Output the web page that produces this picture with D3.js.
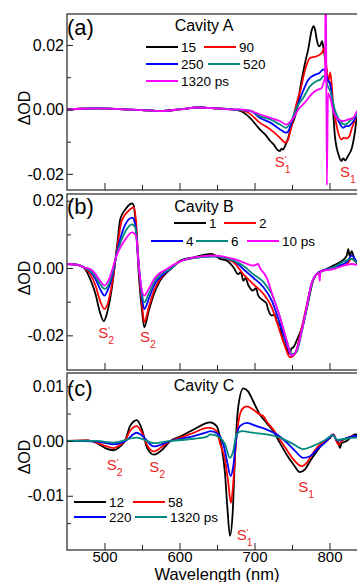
<!DOCTYPE html>
<html>
<head>
<meta charset="utf-8">
<script src="https://cdn.jsdelivr.net/npm/d3@7/dist/d3.min.js"></script>
<style>
  body { margin: 0; background: #fff; }
  text { font-family: "Liberation Sans", Arial, sans-serif; }
</style>
</head>
<body>
<svg id="chart"></svg>
<script>
// *********************************************
// DATA  ([wavelength nm, dOD])
// *********************************************
var aFlat = [[450,0],[470,0.0002],[490,0.0003],[520,0.0001],[550,-0.0002],[575,-0.0005],[600,0],[625,0.0006],[650,0.0003],[670,0]];
var aBlack = [[681,-0.0005],[694,-0.0026],[707,-0.0062],[715,-0.008],[721,-0.0098],[726,-0.011],[730,-0.0124],[734,-0.0129],[736,-0.0122],[738,-0.0125],[741,-0.0112],[745,-0.0088],[748,-0.006],[752,-0.0036],[757,0.0005],[761,0.0067],[764,0.0105],[767,0.014],[772,0.0191],[776,0.0243],[779,0.0258],[781,0.0245],[783,0.0217],[786,0.0196],[788,0.02],[790,0.0212],[792,0.019],[794,0.016],[798,0.009],[801,0.008],[805,-0.001],[807,-0.0078],[812,-0.014],[816,-0.016],[818,-0.0152],[821,-0.0158],[825,-0.0143],[830,-0.0118],[834,-0.0068],[837,-0.0016],[845,0.0003],[850,0]];
var aRed = [[690,-0.0008],[707,-0.0041],[721,-0.0062],[734,-0.0088],[738,-0.0098],[741,-0.0103],[745,-0.0093],[747,-0.0075],[750,-0.0046],[754,0],[758,0.0035],[761,0.0057],[767,0.0119],[774,0.016],[778,0.0162],[783,0.0165],[787,0.017],[790,0.0176],[793,0.0191],[795,0.015],[799,0.009],[801,0.0115],[805,0.0016],[810,-0.0057],[816,-0.0093],[819,-0.0088],[823,-0.009],[826,-0.0085],[830,-0.0057],[837,-0.0016],[845,0.0002],[850,0]];
var aBlue = [[695,-0.0005],[707,-0.0026],[721,-0.0041],[734,-0.0062],[742,-0.0072],[745,-0.0068],[750,-0.0036],[755.5,0],[763,0.0047],[772,0.0093],[781,0.0108],[786,0.0112],[792,0.0124],[794,0.012],[798,0.009],[801,0.0078],[805,0],[812,-0.0036],[818,-0.0057],[822,-0.0052],[825,-0.0052],[832,-0.0036],[837,-0.0016],[845,0],[850,0]];
var aTeal = [[695,-0.0004],[707,-0.0021],[721,-0.0031],[734,-0.0047],[742,-0.0057],[745,-0.0052],[750,-0.0031],[756,0.0005],[765,0.0036],[774,0.0072],[783,0.0088],[788,0.0093],[792,0.0103],[794,0.01],[798,0.007],[801,0.0057],[807,0],[814,-0.0036],[821,-0.0047],[827,-0.0036],[837,-0.0016],[845,0],[850,0]];
var aMagenta = [[681,0],[695,-0.0005],[707,-0.0015],[721,-0.0026],[734,-0.0036],[742,-0.0047],[746,-0.0042],[752,-0.0026],[758.5,0],[767,0.0021],[776,0.0047],[785,0.0062],[789,0.0065],[792,0.0083],[794,0.01],[795,0.045],[796.5,-0.0235],[798,0.005],[801,0.0036],[805,-0.0005],[812,-0.0031],[818,-0.0036],[825,-0.0031],[832,-0.0026],[837,-0.0005],[845,0],[850,0]];

var bBlack = [[450,0.0012],[463,0.001],[472,0.0002],[481,-0.0033],[488,-0.0077],[494,-0.0132],[499,-0.0158],[503,-0.0137],[510,-0.0057],[517,0.0071],[521,0.0145],[528,0.0175],[534,0.019],[537,0.0192],[539,0.0185],[542,0.0121],[546,-0.0028],[550,-0.0127],[553,-0.0176],[559,-0.0127],[566,-0.0077],[574,-0.0038],[588,-0.0003],[601,0.0022],[619,0.0032],[643,0.0042],[654,0.0027],[663,0.0022],[672,0.0002],[678,-0.0018],[682,-0.0012],[685,-0.0038],[688,-0.003],[692,-0.0052],[698,-0.0067],[702,-0.006],[705,-0.0082],[712,-0.0097],[716,-0.0105],[718,-0.0122],[723,-0.0141],[727,-0.0138],[730,-0.0161],[734,-0.017],[736,-0.0196],[742,-0.0235],[747,-0.0255],[749,-0.024],[752,-0.0235],[758,-0.0206],[765,-0.0166],[772,-0.0097],[778,-0.0038],[785,-0.0013],[796,-0.0003],[805,0.0007],[814,0.0017],[823,0.0037],[825,0.0056],[827,0.0035],[829.5,0.005],[834,0.0022],[840,0.001],[850,0.001]];
var bRed = [[450,0.0012],[463,0.001],[472,0.0002],[481,-0.0018],[488,-0.0052],[494,-0.0097],[500,-0.0122],[504,-0.0107],[510,-0.0047],[517,0.0061],[523,0.0141],[532,0.017],[539,0.018],[542,0.0141],[546,-0.0008],[550,-0.0107],[553,-0.0161],[559,-0.0117],[566,-0.0067],[574,-0.0033],[588,-0.0003],[601,0.002],[619,0.003],[645,0.0037],[672,0.0017],[685,-0.0018],[698,-0.0047],[712,-0.0077],[723,-0.0117],[732,-0.0176],[741,-0.0235],[747,-0.0265],[754,-0.0255],[761,-0.0196],[767,-0.0137],[774,-0.0067],[781,-0.0023],[787,-0.0013],[805,0.0002],[823,0.0012],[829.5,0.0027],[840,0.001],[850,0.0008]];
var bBlue = [[450,0.0012],[463,0.001],[472,0.0002],[481,-0.001],[488,-0.0033],[494,-0.0062],[500,-0.0082],[504,-0.0067],[510,-0.0028],[517,0.0051],[526,0.0121],[537,0.015],[541,0.013],[546,0.0002],[550,-0.0087],[553,-0.0122],[559,-0.0092],[566,-0.0052],[574,-0.0028],[588,-0.0003],[601,0.002],[619,0.003],[645,0.0035],[672,0.0022],[685,-0.0003],[698,-0.0028],[712,-0.0057],[723,-0.0097],[734,-0.0166],[743,-0.0226],[749.5,-0.026],[756,-0.0245],[763,-0.0186],[769.5,-0.0117],[776,-0.0047],[783,-0.0018],[805,0.0002],[823,0.0017],[829.5,0.0037],[840,0.001],[850,0.0008]];
var bTeal = [[450,0.0012],[463,0.001],[472,0.0002],[481,-0.0008],[488,-0.0026],[494,-0.0047],[500,-0.0062],[506,-0.0047],[517,0.0046],[528,0.011],[537,0.013],[541,0.012],[546,0],[550,-0.0077],[553,-0.0102],[559,-0.0077],[566,-0.0042],[574,-0.002],[588,-0.0003],[601,0.002],[619,0.003],[645,0.0035],[672,0.0022],[685,0.0007],[698,-0.0018],[712,-0.0042],[723,-0.0077],[734,-0.0146],[743,-0.0216],[749.5,-0.0255],[756,-0.025],[763,-0.019],[769.5,-0.0122],[776,-0.0052],[783,-0.0018],[805,0.0002],[829.5,0.0027],[840,0.001],[850,0.0008]];
var bMagenta = [[450,0.0012],[463,0.001],[472,0.0002],[481,-0.0003],[488,-0.0018],[494,-0.0038],[500,-0.0052],[506,-0.0033],[517,0.0042],[528,0.0086],[537,0.0106],[542,0.0096],[546,0],[550,-0.0067],[553,-0.0082],[559,-0.0062],[566,-0.0033],[583,-0.0003],[601,0.002],[619,0.0032],[645,0.0037],[672,0.0027],[685,0.0017],[698,0.0007],[705,0.0012],[707,0.0002],[716,-0.0028],[725,-0.0087],[734,-0.0146],[743,-0.0216],[749.5,-0.026],[756,-0.0245],[763,-0.0186],[769.5,-0.0117],[776,-0.0047],[783,-0.0018],[786,-0.0015],[787,-0.0038],[788,-0.001],[805,-0.0003],[829.5,0.0012],[840,0.0008],[850,0.0005]];

var cBlack = [[450,0],[477,0.0001],[490,-0.0004],[501,-0.0013],[512,-0.0017],[521,-0.001],[528,0.0002],[534,0.0027],[543,0.0038],[550,0.0021],[557,-0.0013],[566,-0.0025],[577,-0.0016],[588,0],[601,0.0008],[619,0.0021],[637,0.0033],[641,0.0034],[649.5,0.0027],[656,-0.001],[660.6,-0.0058],[663.7,-0.0119],[667.3,-0.0173],[670.9,-0.0131],[674,-0.0028],[678.4,0.0063],[685,0.0096],[691.7,0.009],[698.4,0.0072],[707.3,0.0048],[716,0.0033],[725,0.0018],[734,-0.0004],[743,-0.0025],[752,-0.0043],[760.6,-0.0057],[767.3,-0.0052],[774,-0.0037],[783,-0.0019],[791.8,-0.0004],[800.6,0.0005],[805,0.0012],[809.5,0],[812,-0.0004],[814,-0.0013],[816,-0.0004],[823,0],[834,0.0012],[850,0.0012]];
var cRed = [[450,0],[477,0.0001],[490,-0.0003],[501,-0.0009],[512,-0.0013],[521,-0.0007],[528,0.0002],[534,0.0018],[543,0.0027],[550,0.0015],[557,-0.0008],[566,-0.0019],[577,-0.001],[588,0],[601,0.0006],[619,0.0015],[637,0.0024],[641,0.0024],[649.5,0.0018],[654,-0.0004],[660.6,-0.0034],[665,-0.0076],[668.6,-0.0113],[671.7,-0.0076],[675,-0.0007],[678.4,0.0033],[683,0.0057],[689.5,0.0063],[698.4,0.0057],[707.3,0.0048],[712,0.0045],[716,0.0036],[725,0.0021],[734,0.0002],[743,-0.0016],[752,-0.0034],[762.9,-0.0046],[769.5,-0.004],[778,-0.0022],[787,-0.0007],[796,0],[805,0.0012],[810,-0.0003],[812,-0.0007],[816,0],[834,0.0009],[850,0.001]];
var cBlue = [[450,0],[490,-0.0001],[512,-0.0006],[528,0],[543,0.0015],[550,0.001],[566,-0.001],[588,0],[619,0.0009],[637,0.0016],[641,0.0018],[652,0.0012],[658.4,-0.0006],[663,-0.0034],[668.2,-0.0064],[671.7,-0.0046],[676,0.0008],[680.6,0.0027],[689.5,0.0033],[702.9,0.0027],[716,0.0021],[729.5,0.0012],[743,-0.0003],[754,-0.0018],[765,-0.0031],[774,-0.0028],[783,-0.0016],[794,-0.0003],[805,0.0011],[810,0.0001],[834,0.0009],[850,0.001]];
var cTeal = [[450,0],[490,0],[512,-0.0003],[543,0.0006],[566,-0.0004],[588,0],[619,0.0004],[637,0.0008],[641,0.0012],[654,0.0006],[660.6,-0.0006],[667.3,-0.0031],[671.7,-0.0018],[676,0.0012],[683,0.0018],[698.4,0.0015],[716,0.0012],[734,0.0006],[752,-0.0006],[765,-0.0015],[778,-0.0009],[791.8,0],[805,0.001],[810,0.0002],[834,0.0006],[850,0.0006]];

var aLabels = ["15", "90", "250", "520", "1320 ps"];
var bLabels = ["1", "2", "4", "6", "10 ps"];
var cLabels = ["12", "58", "220", "1320 ps"];

var titles = ["Cavity A", "Cavity B", "Cavity C"];
var panelTags = ["(a)", "(b)", "(c)"];

var xMajor = [500, 600, 700, 800];
var xMinor = [550, 650, 750];

// band labels: [nm, dOD, subscript, primed]
var aMarks = [[727, -0.0179, "1", true], [814, -0.021, "1", false]];
var bMarks = [[491.7, -0.0208, "2", true], [547.3, -0.0219, "2", false]];
var cMarks = [[503, -0.0053, "2", true], [559.7, -0.0056, "2", false], [676.3, -0.0181, "1", true], [758.4, -0.0093, "1", false]];

// *********************************************
// SETUP
// *********************************************
var width = 357, height = 582;
var colors = ["#000000", "#ff0000", "#0000ff", "#00897d", "#ff00ff"];

var svg = d3.select("#chart")
    .attr("width", width)
    .attr("height", height);

svg.append("rect").attr("width", width).attr("height", height).attr("fill", "#fff");

var x = d3.scaleLinear().domain([450, 850]).range([67, 367]);

var panels = [
  {top: 14, bottom: 190, dom: [-0.025, 0.0296], major: [-0.02, 0, 0.02], minor: [-0.01, 0.01],
   lines: [aFlat.concat(aBlack), aFlat.concat(aRed), aFlat.concat(aBlue), aFlat.concat(aTeal), aFlat.concat(aMagenta)],
   labels: aLabels, marks: aMarks, titleY: 30.5, tagY: 35, yTitle: 108,
   legend: [[146,47],[204,47],[146,64],[208,64],[146,81]]},
  {top: 194, bottom: 370, dom: [-0.0303, 0.022], major: [-0.02, 0, 0.02], minor: [-0.01, 0.01],
   lines: [bBlack, bRed, bBlue, bTeal, bMagenta],
   labels: bLabels, marks: bMarks, titleY: 211.5, tagY: 214, yTitle: 278,
   legend: [[174,223],[224,223],[151,241],[196,241],[247,241]]},
  {top: 373, bottom: 550, dom: [-0.0199, 0.0124], major: [-0.01, 0, 0.01], minor: [-0.015, -0.005, 0.005],
   lines: [cBlack, cRed, cBlue, cTeal],
   labels: cLabels, marks: cMarks, titleY: 391, tagY: 396, yTitle: 457,
   legend: [[74,502],[133,502],[74,517],[135,517]]}
];

var fmt = d => d.toFixed(2);

panels.forEach(function(p, i) {
  var y = d3.scaleLinear().domain(p.dom).range([p.bottom, p.top]);
  var g = svg.append("g");

  var clipId = "clip" + i;
  svg.append("clipPath").attr("id", clipId)
    .append("rect")
      .attr("x", x.range()[0]).attr("y", p.top)
      .attr("width", x.range()[1] - x.range()[0]).attr("height", p.bottom - p.top);

  // curves
  var line = d3.line()
      .x(d => x(d[0]))
      .y(d => y(d[1]))
      .curve(d3.curveMonotoneX);

  g.append("g")
      .attr("clip-path", "url(#" + clipId + ")")
    .selectAll("path")
    .data(p.lines)
    .enter().append("path")
      .attr("d", line)
      .attr("fill", "none")
      .attr("stroke", (d, k) => colors[k])
      .attr("stroke-width", 1.8)
      .attr("stroke-linejoin", "round");

  // frame
  g.append("rect")
      .attr("x", x.range()[0]).attr("y", p.top)
      .attr("width", x.range()[1] - x.range()[0]).attr("height", p.bottom - p.top)
      .attr("fill", "none")
      .attr("stroke", "#222")
      .attr("stroke-width", 1.2);

  // y axis, ticks pointing inward
  var yAxis = g.append("g")
      .attr("transform", "translate(" + x.range()[0] + ",0)")
      .call(d3.axisLeft(y).tickValues(p.major).tickSize(-6).tickPadding(3).tickFormat(fmt));
  yAxis.append("g")
      .call(d3.axisLeft(y).tickValues(p.minor).tickSize(-4).tickFormat(""));
  yAxis.selectAll(".domain").remove();
  yAxis.selectAll("text").attr("font-size", 16).attr("fill", "#000")
      .style("font-family", "'Liberation Sans', Arial, sans-serif");
  yAxis.selectAll("line").attr("stroke", "#222");

  // x axis
  var xAxis = g.append("g")
      .attr("transform", "translate(0," + p.bottom + ")")
      .call(d3.axisBottom(x).tickValues(xMajor).tickSize(-7).tickPadding(1.5)
        .tickFormat(i == 2 ? d3.format("d") : ""));
  xAxis.append("g")
      .call(d3.axisBottom(x).tickValues(xMinor).tickSize(-5).tickFormat(""));
  xAxis.selectAll(".domain").remove();
  xAxis.selectAll("text").attr("font-size", 15).attr("fill", "#000")
      .style("font-family", "'Liberation Sans', Arial, sans-serif");
  xAxis.selectAll("line").attr("stroke", "#222");

  // ΔOD
  g.append("text")
      .attr("transform", "translate(30," + p.yTitle + ")rotate(-90)")
      .attr("text-anchor", "middle")
      .attr("font-size", 16)
      .text("\u0394OD");

  g.append("text")
      .attr("x", 67).attr("y", p.tagY)
      .attr("font-size", 22)
      .text(panelTags[i]);

  g.append("text")
      .attr("x", 204).attr("y", p.titleY)
      .attr("text-anchor", "middle")
      .attr("font-size", 16)
      .text(titles[i]);

  // legend
  var leg = g.selectAll(".leg")
      .data(p.labels)
    .enter().append("g");
  leg.append("line")
      .attr("x1", (d, k) => p.legend[k][0])
      .attr("x2", (d, k) => p.legend[k][0] + 32)
      .attr("y1", (d, k) => p.legend[k][1])
      .attr("y2", (d, k) => p.legend[k][1])
      .attr("stroke", (d, k) => colors[k])
      .attr("stroke-width", 2);
  leg.append("text")
      .attr("x", (d, k) => p.legend[k][0] + 35)
      .attr("y", (d, k) => p.legend[k][1] + 5)
      .attr("font-size", 13.5)
      .text(d => d);

  // band labels
  var mk = g.selectAll(".mk")
      .data(p.marks)
    .enter().append("g")
      .attr("transform", d => "translate(" + x(d[0]) + "," + y(d[1]) + ")")
      .attr("fill", "#f01e1e");
  mk.append("text").attr("font-size", 15).text("S");
  mk.append("text").attr("x", 10).attr("y", 6).attr("font-size", 10.5).text(d => d[2]);
  mk.filter(d => d[3]).append("text").attr("x", 10).attr("y", -5).attr("font-size", 9).text("'");
});

svg.append("text")
    .attr("x", (x.range()[0] + x.range()[1]) / 2)
    .attr("y", 579.5)
    .attr("text-anchor", "middle")
    .attr("font-size", 16.5)
    .text("Wavelength (nm)");
</script>
</body>
</html>
